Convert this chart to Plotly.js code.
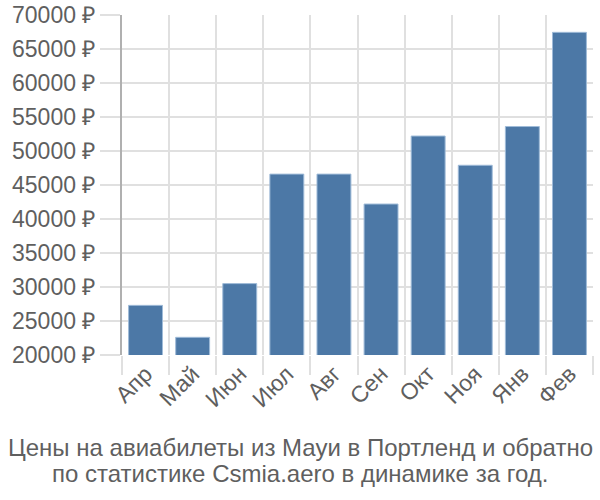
<!DOCTYPE html>
<html>
<head>
<meta charset="utf-8">
<script src="https://cdn.plot.ly/plotly-3.0.1.min.js"></script>
<style>html,body{margin:0;padding:0;background:#fff;}#chart{width:600px;height:500px;}</style>
</head>
<body>
<div id="chart"></div>
<script>
const months = ["Апр", "Май", "Июн", "Июл", "Авг", "Сен", "Окт", "Ноя", "Янв", "Фев"];
const prices = [27300, 22600, 30500, 46600, 46600, 42200, 52200, 47900, 53600, 67450];
const yTicks = [20000, 25000, 30000, 35000, 40000, 45000, 50000, 55000, 60000, 65000, 70000];
const yTickLabels = yTicks.map(v => v + " ₽");
const titleLines = ["Цены на авиабилеты из Мауи в Портленд и обратно", "по статистике Csmia.aero в динамике за год."];

const font = "Liberation Sans, Arial, sans-serif";
const textColor = "#5f5f5f";

const plotTop = 15, plotBottom = 355, plotH = plotBottom - plotTop;
const titleY = [447, 473];

Plotly.newPlot("chart", [{
  type: "bar",
  x: months,
  y: prices,
  marker: {color: "#4c78a6", line: {color: "#9fbbd8", width: 1}},
  hoverinfo: "none"
}], {
  width: 600, height: 500,
  margin: {l: 122, r: 7, t: plotTop, b: 500 - plotBottom},
  paper_bgcolor: "#fff", plot_bgcolor: "#fff",
  bargap: 0.28,
  showlegend: false,
  font: {family: font, color: textColor, size: 20},
  xaxis: {
    type: "category",
    tickson: "boundaries",
    showgrid: true, gridcolor: "#e0e0e0", gridwidth: 2,
    ticks: "outside", ticklen: 19, tickcolor: "#e0e0e0", tickwidth: 2,
    tickangle: -45,
    tickfont: {family: font, size: 23, color: textColor},
    showline: false, zeroline: false
  },
  yaxis: {
    range: [20000, 70000],
    tickvals: yTicks, ticktext: yTickLabels,
    showgrid: true, gridcolor: "#e0e0e0", gridwidth: 2,
    ticks: "outside", ticklen: 20, tickcolor: "#e0e0e0", tickwidth: 2,
    tickfont: {family: font, size: 23, color: textColor},
    showline: true, linecolor: "#b0b0b0", linewidth: 2,
    zeroline: false
  },
  annotations: titleLines.map((t, i) => ({
    xref: "paper", yref: "paper", x: 0.5, y: -(titleY[i] - plotBottom) / plotH,
    xanchor: "center", yanchor: "middle",
    xshift: -57.5,
    text: t,
    showarrow: false,
    font: {family: font, size: 24, color: textColor}
  }))
}, {staticPlot: true});
</script>
</body>
</html>
